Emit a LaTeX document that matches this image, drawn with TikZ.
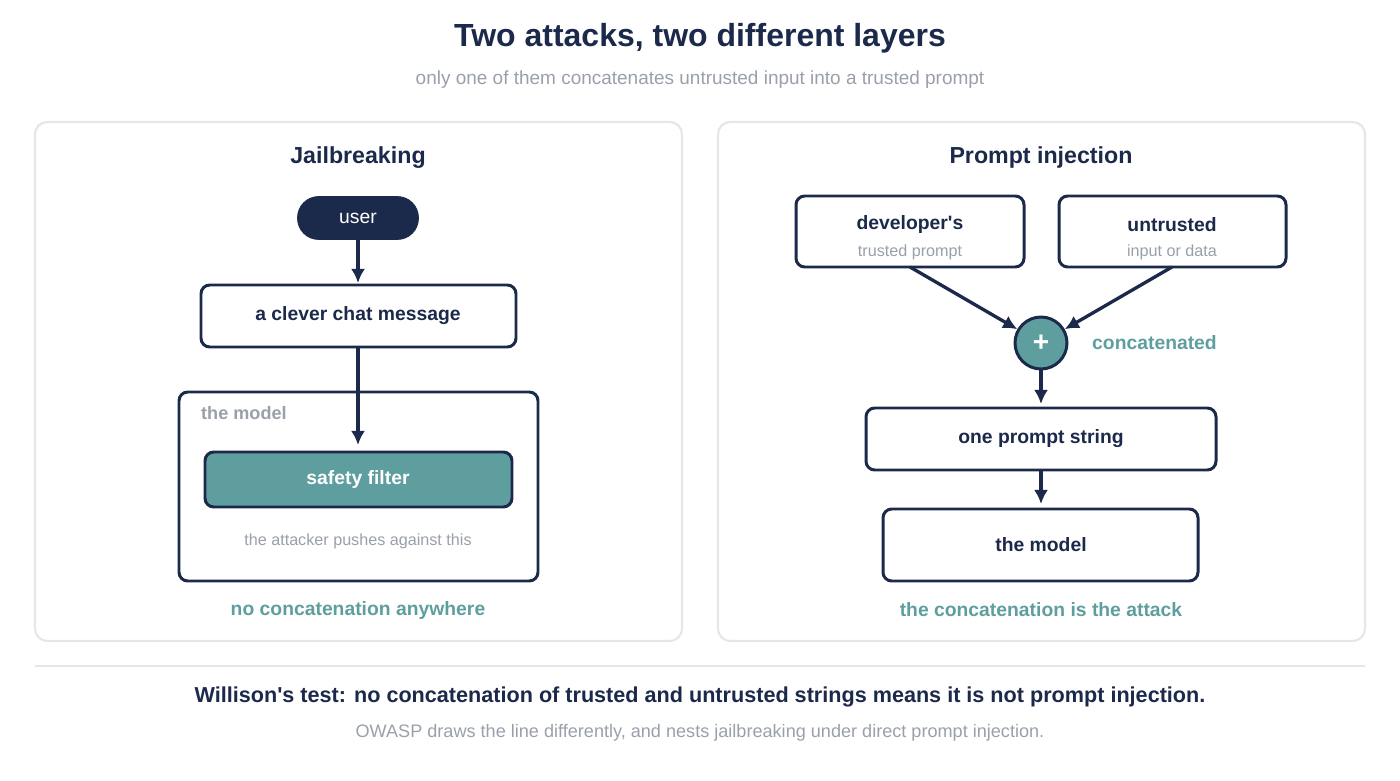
\documentclass[tikz,border=0pt]{standalone}
\usepackage{fontspec}
\setmainfont{Liberation Sans}
\usetikzlibrary{arrows.meta,positioning,calc}
\definecolor{navy}{HTML}{1B2A4A}
\definecolor{teal}{HTML}{5F9E9E}
\definecolor{grey}{HTML}{9AA0AA}
\definecolor{rim}{HTML}{E3E6EA}
\newcommand{\apos}{\textquotesingle}
\begin{document}
\begin{tikzpicture}
[x=0.02cm,y=-0.02cm,
panel/.style={draw=rim,line width=1.2pt,rounded corners=7pt},
box/.style={draw=navy,line width=1.7pt,rounded corners=5pt,fill=white},
lbl/.style={font=\fontsize{11}{13}\selectfont\bfseries,text=navy},
note/.style={font=\fontsize{9.2}{11}\selectfont,text=grey},
head/.style={font=\fontsize{13.2}{15}\selectfont\bfseries,text=navy},
flow/.style={draw=navy,line width=1.9pt,-{Latex[length=8pt,width=8pt]}}]
\useasboundingbox (0,0) rectangle (1400,781);
%%
% titles
%%
\node[font=\fontsize{18.2}{21}\selectfont\bfseries,text=navy] (title) at (700,38) {Two attacks, two different layers};
\node[font=\fontsize{10.8}{13}\selectfont,text=grey] (sub) at (700,80) {only one of them concatenates untrusted input into a trusted prompt};
\draw[panel] (35,122) rectangle (682,641);
\draw[panel] (718,122) rectangle (1365,641);
%%
% Jailbreaking
%%
\node[head] (jb) at (358,158) {Jailbreaking};
\node[draw=navy,fill=navy,rounded corners=12pt,minimum width=2.42cm,minimum height=0.86cm,
  text=white,font=\fontsize{11}{12}\selectfont] (user) at (358,218) {user};
\draw[box] (201,285) rectangle (516,347);
\node[lbl] (msg) at (358,316) {a clever chat message};
\draw[box] (179,392) rectangle (538,581);
\node[font=\fontsize{10.3}{12}\selectfont\bfseries,text=grey,anchor=west] (mdl) at (195,413) {the model};
\draw[box,fill=teal] (205,452) rectangle (512,507);
\node[lbl,text=white] (filt) at (358,479) {safety filter};
\node[note] (push) at (358,541) {the attacker pushes against this};
\node[lbl,text=teal] (nocat) at (358,610) {no concatenation anywhere};
\coordinate (msgtop) at (358,283);
\coordinate (msgbot) at (358,347);
\coordinate (filttop) at (358,445);
\draw[flow] (user.south) -- (msgtop);
\draw[flow] (msgbot) -- (filttop);
%%
% Prompt injection
%%
\node[head] (pi) at (1041,158) {Prompt injection};
\draw[box] (796,196) rectangle (1024,267);
\node[lbl] (dev) at (910,225) {developer\apos s};
\node[note] (trp) at (910,252) {trusted prompt};
\draw[box] (1059,196) rectangle (1286,267);
\node[lbl] (untr) at (1172,225) {untrusted};
\node[note] (inp) at (1172,252) {input or data};
\node[circle,draw=navy,line width=1.7pt,fill=teal,minimum size=1.04cm,
  inner sep=0pt,text=white,font=\fontsize{16}{16}\selectfont\bfseries] (plus) at (1041,343) {+};
\node[lbl,text=teal,anchor=west] (cat) at (1086,343) {concatenated};
\draw[box] (866,408) rectangle (1216,470);
\node[lbl] (one) at (1041,439) {one prompt string};
\draw[box] (883,509) rectangle (1198,581);
\node[lbl] (model) at (1041,545) {the model};
\node[lbl,text=teal] (isatk) at (1041,610) {the concatenation is the attack};
\coordinate (devbot) at (910,267);
\coordinate (untbot) at (1172,267);
\coordinate (onetop) at (1041,404);
\coordinate (onebot) at (1041,470);
\coordinate (modtop) at (1041,504);
\draw[flow] (devbot) -- (plus);
\draw[flow] (untbot) -- (plus);
\draw[flow] (plus) -- (onetop);
\draw[flow] (onebot) -- (modtop);
%%
% footer
%%
\draw[rim,line width=1.2pt] (35,666) -- (1365,666);
\node[font=\fontsize{12.3}{14}\selectfont\bfseries,text=navy] (test) at (700,697) {Willison\apos s test: no concatenation of trusted and untrusted strings means it is not prompt injection.};
\node[font=\fontsize{10.3}{12}\selectfont,text=grey] (owasp) at (700,733) {OWASP draws the line differently, and nests jailbreaking under direct prompt injection.};
\end{tikzpicture}
\end{document}
